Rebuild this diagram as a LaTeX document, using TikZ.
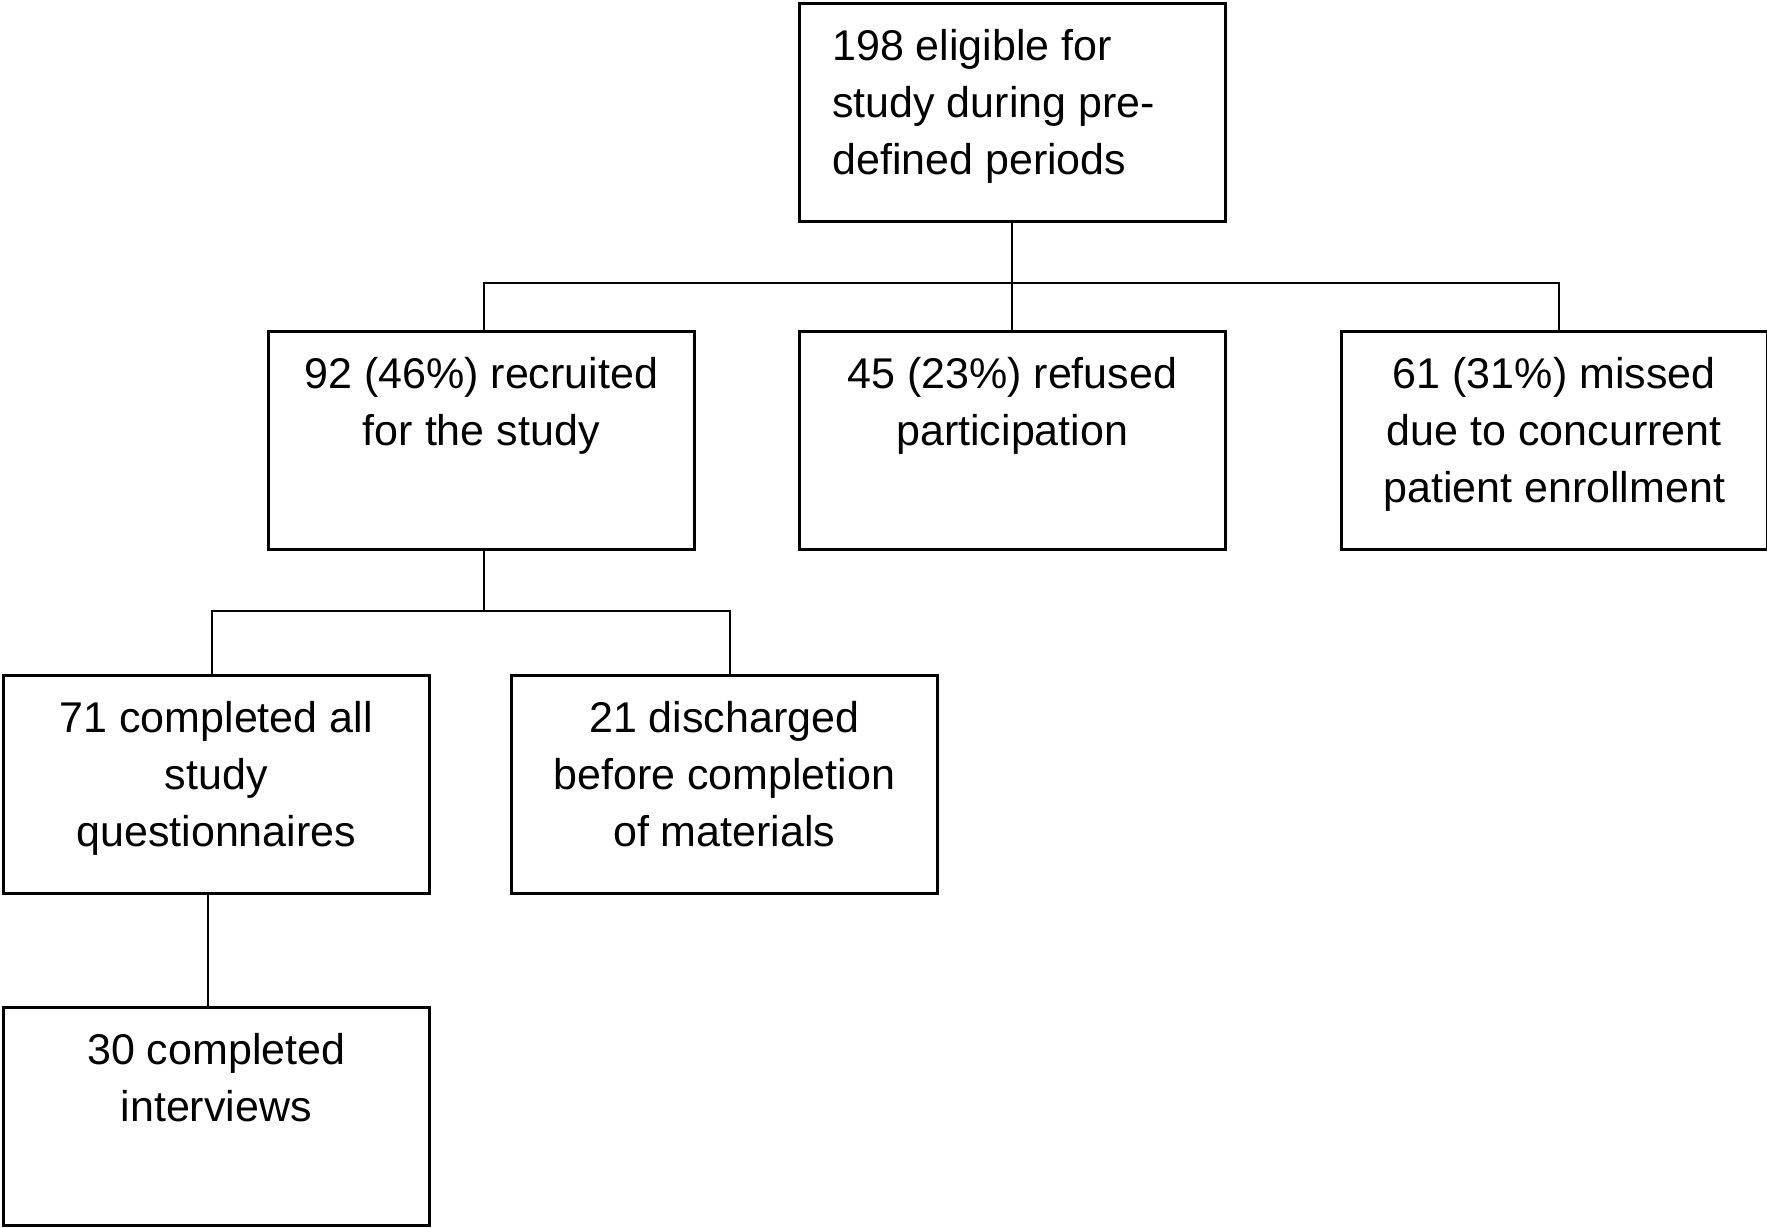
\documentclass[tikz,border=0pt]{standalone}
\usepackage{fontspec}
\setmainfont{Liberation Sans}
\newcommand{\boxtext}[2][\centering]{\parbox[c][218pt][t]{426pt}{#1\vspace*{17pt}\strut#2}}
\tikzset{
	flowbox/.style={draw, line width=2.5pt, inner sep=0pt, anchor=north west, font=\fontsize{43}{57}\selectfont},
	link/.style={line width=2.3pt}
}
\begin{document}
\begin{tikzpicture}[x=1pt, y=-1pt]
		\useasboundingbox (0,0) rectangle (1767,1227);
		
		% Eligible
		\node[flowbox] (elig) at (798,2) {\boxtext[\raggedright\leftskip=33pt]{198 eligible for\\ study during pre-\\ defined periods}};
		
		% Second row
		\node[flowbox] (recr) at (267,330) {\boxtext{92 (46\%) recruited\\ for the study}};
		\node[flowbox] (refu) at (798,330) {\boxtext{45 (23\%) refused\\ participation}};
		\node[flowbox] (miss) at (1340,330) {\boxtext{61 (31\%) missed\\ due to concurrent\\ patient enrollment}};
		
		% Third row
		\node[flowbox] (compl) at (2,674) {\boxtext{71 completed all\\ study\\ questionnaires}};
		\node[flowbox] (disc) at (510,674) {\boxtext{21 discharged\\ before completion\\ of materials}};
		
		% Interviews
		\node[flowbox] (inter) at (2,1006) {\boxtext{30 completed\\ interviews}};
		
		% Lines from eligible
		\coordinate (split1) at (elig.south |- 0,283);
		\draw[link] (elig.south) -- (split1);
		\draw[link] ([xshift=3pt]recr.north) |- (split1) -| ([xshift=5pt]miss.north);
		\draw[link] (split1) -- (split1 |- refu.north);
		
		% Lines from recruited
		\coordinate (split2) at ([xshift=3pt]recr.south |- 0,611);
		\draw[link] ([xshift=3pt]recr.south) -- (split2);
		\draw[link] ([xshift=-4pt]compl.north) |- (split2) -| ([xshift=6pt]disc.north);
		
		% Line to interviews
		\draw[link] ([xshift=-8pt]compl.south) -- ([xshift=-8pt]inter.north);
	\end{tikzpicture}
\end{document}
